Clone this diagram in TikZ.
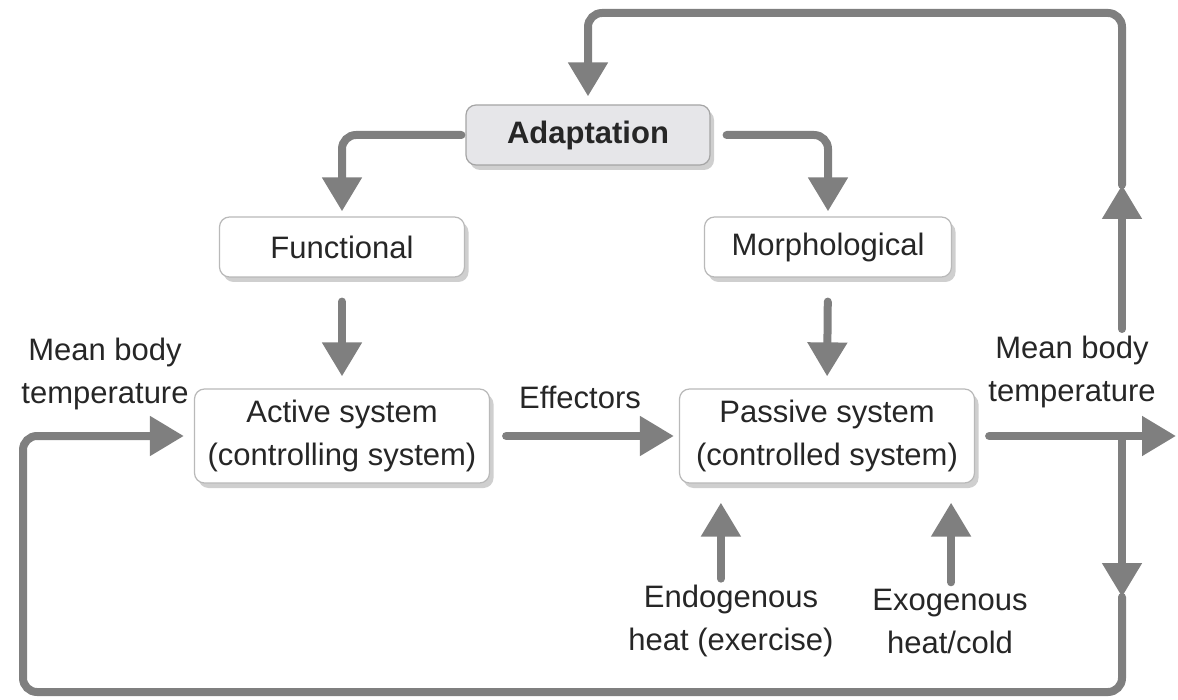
\documentclass[tikz,border=0pt]{standalone}
\usepackage{fontspec}
\setmainfont{Liberation Sans}
\usetikzlibrary{arrows.meta,shadows}
\definecolor{flowgray}{HTML}{7F7F7F}
\definecolor{boxline}{HTML}{B9B9B9}
\definecolor{shadowgray}{HTML}{CFCFCF}
\definecolor{adaptfill}{HTML}{E6E6E9}
\definecolor{textdark}{HTML}{262626}
\tikzset{
	sysbox/.style={draw=boxline, line width=0.6pt, rounded corners=5pt, fill=white, text=textdark,
		align=center, inner sep=0pt,
		drop shadow={shadow xshift=2pt, shadow yshift=-2.5pt, fill=shadowgray, opacity=1}},
	flow/.style={draw=flowgray, line width=4pt, rounded corners=7pt, line cap=round,
		shorten >=2.5pt, -{Triangle[length=17pt,width=19pt]}},
	sidetext/.style={text=textdark, align=center, inner sep=0pt}
}
\begin{document}
\fontsize{15.5}{21.5}\selectfont
\begin{tikzpicture}[x=0.5pt,y=-0.5pt]
	\useasboundingbox (0,0) rectangle (1178,700);
	\node[sysbox, draw=flowgray!70, fill=adaptfill, minimum width=122pt, minimum height=30pt, font=\bfseries] (adapt) at (588,135) {Adaptation};
	\node[sysbox, minimum width=122.5pt, minimum height=30pt] (func) at (342,247) {Functional};
	\node[sysbox, minimum width=123.5pt, minimum height=30pt] (morph) at (828,247) {Morphological};
	\node[sysbox, minimum width=147.5pt, minimum height=47pt] (active) at (342,436) {Active system\\(controlling system)};
	\node[sysbox, minimum width=147.5pt, minimum height=47pt] (passive) at (827,436) {Passive system\\(controlled system)};

	\node[sidetext] (ltemp) at (105,374) {Mean body\\temperature};
	\node[sidetext] (rtemp) at (1072,372) {Mean body\\temperature};
	\node[sidetext] (effect) at (580,397) {Effectors};
	\node[sidetext] (endo) at (731,621) {Endogenous\\heat (exercise)};
	\node[sidetext] (exo) at (950,621) {Exogenous\\heat/cold};

	\coordinate (junct) at (1122,436);
	\coordinate (upstart) at (1122,329);
	\coordinate (uptip) at (1122,185);
	\coordinate (topright) at (1122,13);
	\coordinate (downtip) at (1122,597);
	\coordinate (botleft) at (23,692);
	\coordinate (outend) at (1176,436);
	\coordinate (endoin) at ([xshift=21pt]passive.south west);
	\coordinate (exoin) at ([xshift=-12pt]passive.south east);

	\draw[flow, shorten <=2pt] (adapt.west) -| (func.north);
	\draw[flow, shorten <=8pt] (adapt.east) -| (morph.north);
	\draw[flow, shorten <=12pt, shorten >=6pt] (func.south) -- (active.north);
	\draw[flow, shorten <=12pt, shorten >=6pt] (morph.south) -- (passive.north);
	\draw[flow, shorten <=8pt] (active.east) -- (passive.west);
	\draw[flow, shorten <=3pt, shorten >=9.5pt] (endo.north -| endoin) -- (endoin);
	\draw[flow, shorten <=3pt, shorten >=9.5pt] (exo.north -| exoin) -- (exoin);
	\draw[flow, shorten <=7pt, shorten >=0pt] (passive.east) -- (outend);
	\draw[flow, shorten >=0pt] (upstart) -- (uptip);
	\draw[flow, shorten >=4pt] (uptip) -- (topright) -| (adapt.north);
	\draw[flow, shorten >=0pt] (junct) -- (downtip);
	\draw[flow, shorten >=5pt] (downtip) |- (botleft) |- (active.west);
\end{tikzpicture}
\end{document}
